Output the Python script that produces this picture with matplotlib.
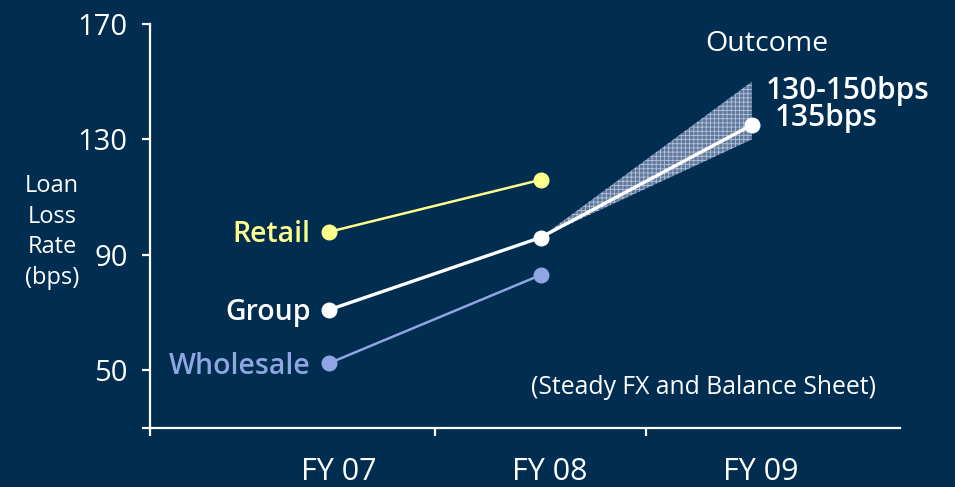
import matplotlib
matplotlib.use("Agg")
import matplotlib.pyplot as plt
from matplotlib.patches import Polygon
from matplotlib.transforms import ScaledTranslation

plt.rcParams["font.family"] = ["Open Sans", "DejaVu Sans"]
plt.rcParams["hatch.linewidth"] = 0.6

# ---- data ----
years = ["FY 07", "FY 08", "FY 09"]
retail = [98, 116]
group = [71, 96, 135]
wholesale = [52.5, 83]
outcome_range = [130, 150]
y_ticks = [50, 90, 130, 170]

BG = "#002d50"
YELLOW = "#ffff8c"
WHITE = "#ffffff"
LBLUE = "#8fa6e3"

fig = plt.figure(figsize=(9.55, 4.87), dpi=100, facecolor=BG)
ax = fig.add_axes([0.1571, 0.1211, 0.7853, 0.8296], facecolor=BG)

xs = list(range(len(years)))

# outcome fan from FY 08 group value to the FY 09 range
fan = Polygon([(xs[1], group[1]), (xs[2], outcome_range[1]), (xs[2], outcome_range[0])],
              closed=True, facecolor="#5f789c", edgecolor="#b3c2da", hatch="++++",
              linewidth=0, zorder=2)
ax.add_patch(fan)

ms = 10.5
ax.plot(xs[:2], retail, color=YELLOW, lw=1.8, marker="o", ms=ms, zorder=3)
ax.plot(xs[:2], wholesale, color=LBLUE, lw=1.8, marker="o", ms=ms, zorder=3)
ax.plot(xs, group, color=WHITE, lw=2.4, marker="o", ms=ms, zorder=4)

ax.set_xlim(-0.849, 2.702)
ax.set_ylim(30, 170)

for s in ["top", "right"]:
    ax.spines[s].set_visible(False)
for s in ["left", "bottom"]:
    ax.spines[s].set_color(WHITE)
    ax.spines[s].set_linewidth(1.6)

# major ticks: separators between years and value ticks
ax.set_yticks([30] + y_ticks)
ax.set_yticklabels([""] + [str(v) for v in y_ticks])
ax.set_xticks([-0.849, 0.5, 1.5])
ax.set_xticklabels(["", "", ""])
ax.tick_params(axis="both", which="major", direction="out", length=6,
               width=1.6, color=WHITE, labelcolor=WHITE, labelsize=21)
ax.tick_params(axis="y", which="major", pad=10)

# year labels on minor ticks, nudged slightly right
ax.set_xticks(xs, minor=True)
ax.set_xticklabels(years, minor=True)
ax.tick_params(axis="x", which="minor", length=0, labelsize=22,
               labelcolor=WHITE, pad=21)
nudge = ScaledTranslation(9 / 100, 0, fig.dpi_scale_trans)
for lbl in ax.get_xticklabels(minor=True):
    lbl.set_transform(lbl.get_transform() + nudge)

# axis title
fig.text(0.0545, 0.5236, "Loan\nLoss\nRate\n(bps)", color=WHITE, fontsize=17,
         ha="center", va="center", linespacing=1.38)

# series labels
lab_kw = dict(textcoords="offset points", ha="right", va="baseline",
              fontsize=20.5, fontweight="semibold")
ax.annotate("Retail", (xs[0], retail[0]), xytext=(-13.5, -7.5), color=YELLOW, **lab_kw)
ax.annotate("Group", (xs[0], group[0]), xytext=(-13.5, -7.5), color=WHITE, **lab_kw)
ax.annotate("Wholesale", (xs[0], wholesale[0]), xytext=(-13.5, -7.5), color=LBLUE, **lab_kw)

# outcome annotations
ax.annotate("Outcome", (xs[2], group[2]), xytext=(11, 53), textcoords="offset points",
            ha="center", va="baseline", color=WHITE, fontsize=20.5)
ax.annotate(f"{outcome_range[0]}-{outcome_range[1]}bps", (xs[2], group[2]),
            xytext=(10, 19), textcoords="offset points", ha="left", va="baseline",
            color=WHITE, fontsize=21.5, fontweight="semibold")
ax.annotate(f"{group[2]}bps", (xs[2], group[2]), xytext=(16.5, -1), textcoords="offset points",
            ha="left", va="baseline", color=WHITE, fontsize=21.5, fontweight="semibold")

ax.text(0.968, 0.10, "(Steady FX and Balance Sheet)", transform=ax.transAxes,
        ha="right", va="center", color=WHITE, fontsize=17.8)

fig.savefig("out.png", dpi=100, facecolor=BG)
